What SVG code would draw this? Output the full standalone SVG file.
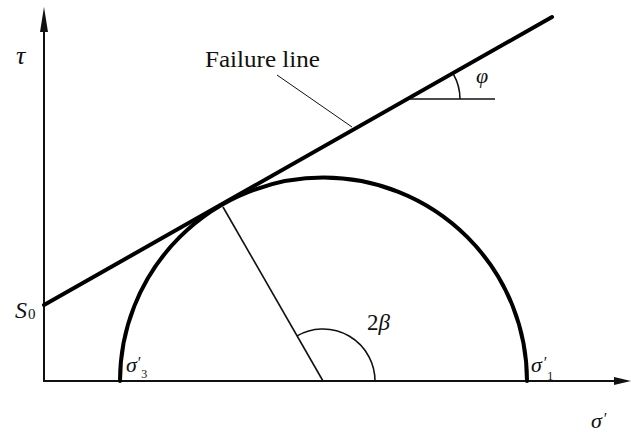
<svg xmlns="http://www.w3.org/2000/svg" width="631" height="432" viewBox="0 0 631 432">
<style>
.ax{stroke:#111;stroke-width:2;fill:none}
.thick{stroke:#000;stroke-width:4;fill:none;stroke-linecap:round}
.thin{stroke:#111;stroke-width:1.6;fill:none}
.hair{stroke:#111;stroke-width:1;fill:none}
.lbl{font-family:'Liberation Serif','DejaVu Serif',serif;fill:#111}
.it{font-style:italic}
</style>
<rect width="631" height="432" fill="#fff"/>
<g id="axes">
<line class="ax" x1="44" y1="382" x2="44" y2="28"/>
<polygon points="44,7 40,32 48,32" fill="#111"/>
<line class="ax" x1="43" y1="381" x2="617" y2="381"/>
<polygon points="631,381 614,377 614,385" fill="#111"/>
</g>
<g id="connectors">
<line id="failure-line" class="thick" x1="44" y1="305" x2="552" y2="17"/>
<path id="mohr-circle" class="thick" d="M120 381 A203.5 203.5 0 0 1 527 381"/>
<line id="radius" class="thin" x1="323" y1="381" x2="223" y2="207"/>
<line id="leader" class="hair" x1="277" y1="75" x2="352" y2="127"/>
<line id="phi-ref" class="thin" x1="410" y1="99" x2="495" y2="99"/>
<path id="phi-arc" class="thin" d="M453.5 74.3 A50 50 0 0 1 460 99"/>
<path id="beta-arc" class="thin" d="M297.1 335.9 A52 52 0 0 1 375 381"/>
</g>
<g id="labels" font-family="Liberation Serif, DejaVu Serif, serif">
<text class="lbl it" x="16" y="64" font-size="26">τ</text>
<text class="lbl" x="205" y="67" font-size="23" textLength="115" lengthAdjust="spacingAndGlyphs">Failure line</text>
<text class="lbl it" x="476" y="83" font-size="22">φ</text>
<text class="lbl" x="15" y="318" font-size="24"><tspan class="it">S</tspan><tspan font-size="15" dx="1" dy="1">0</tspan></text>
<text class="lbl" x="367" y="330" font-size="23">2<tspan class="it">β</tspan></text>
<text class="lbl it" x="126" y="372" font-size="22">σ<tspan font-style="normal" font-size="16" dx="1" dy="-4">′</tspan><tspan font-style="normal" font-size="12" dx="0" dy="10">3</tspan></text>
<text class="lbl it" x="531" y="372" font-size="22">σ<tspan font-style="normal" font-size="16" dx="2" dy="-4">′</tspan><tspan font-style="normal" font-size="12" dx="0" dy="12">1</tspan></text>
<text class="lbl it" x="591" y="428" font-size="22">σ<tspan font-style="normal" font-size="16" dx="2" dy="-4">′</tspan></text>
</g>
</svg>
